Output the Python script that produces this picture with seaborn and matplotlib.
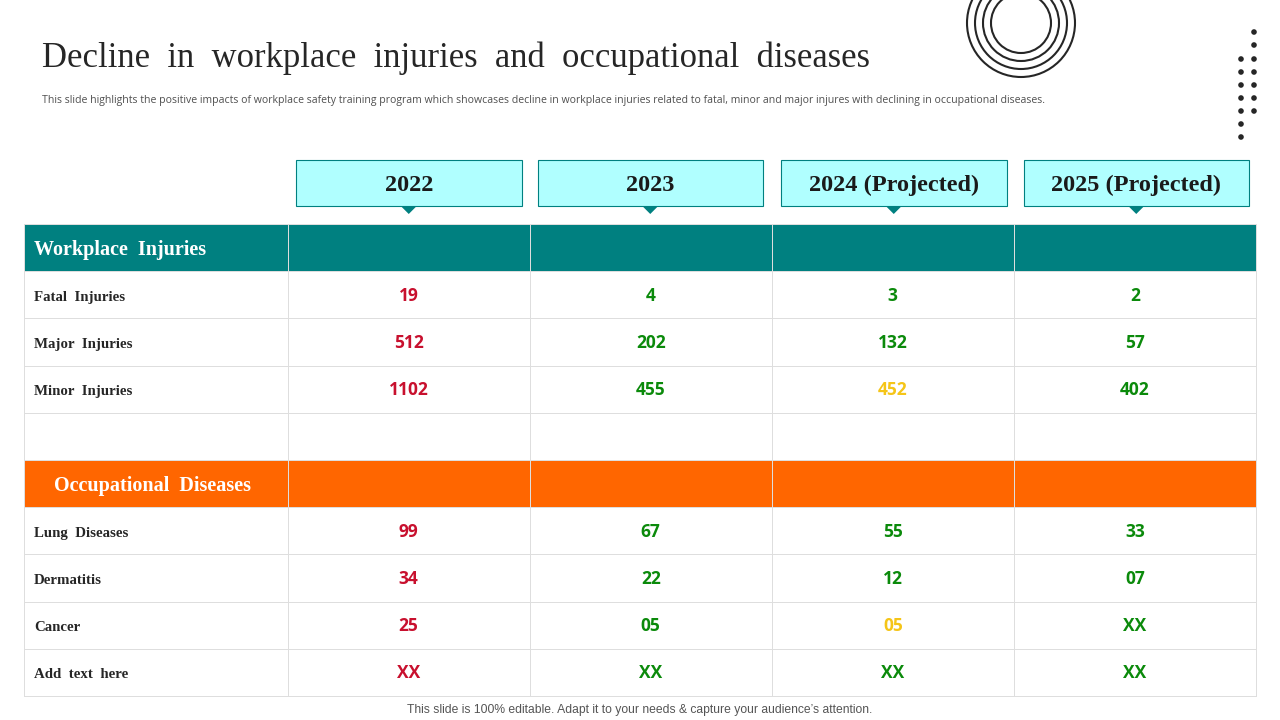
import numpy as np
import seaborn as sns
import matplotlib.pyplot as plt
from matplotlib.colors import ListedColormap
from matplotlib.patches import Rectangle, Polygon, Circle

title = 'Decline  in  workplace  injuries  and  occupational  diseases'
subtitle = ('This slide highlights the positive impacts of workplace safety training program which showcases '
            'decline in workplace injuries related to fatal, minor and major injures with declining in occupational diseases.')
footer = 'This slide is 100% editable. Adapt it to your needs & capture your audience\u2019s attention.'

years = ['2022', '2023', '2024 (Projected)', '2025 (Projected)']
row_names = ['Workplace  Injuries', 'Fatal  Injuries', 'Major  Injuries', 'Minor  Injuries', '',
             'Occupational  Diseases', 'Lung  Diseases', 'Dermatitis', 'Cancer', 'Add  text  here']
row_kind = [1, 0, 0, 0, 0, 2, 0, 0, 0, 0]

col_2022 = ['', '19', '512', '1102', '', '', '99', '34', '25', 'XX']
col_2023 = ['', '4', '202', '455', '', '', '67', '22', '05', 'XX']
col_2024 = ['', '3', '132', '452', '', '', '55', '12', '05', 'XX']
col_2025 = ['', '2', '57', '402', '', '', '33', '07', 'XX', 'XX']

RED = '#C8102E'
GREEN = '#0B8A0B'
YELLOW = '#F5C518'
TEAL = '#008080'
ORANGE = '#FF6600'
# cells that break the red / green pattern
yellow_cells = [(3, 2), (8, 2)]

sns.set_theme(style='white')
fig = plt.figure(figsize=(12.8, 7.2), dpi=100)


def px_axes(x0, y0, x1, y1):
    return fig.add_axes([x0 / 1280, 1 - y1 / 720, (x1 - x0) / 1280, (y1 - y0) / 720])


bg = px_axes(0, 0, 1280, 720)
bg.set_xlim(0, 1280)
bg.set_ylim(720, 0)
bg.axis('off')

kinds = np.array(row_kind)
cmap = ListedColormap(['white', TEAL, ORANGE])
grid = dict(cmap=cmap, vmin=0, vmax=2, cbar=False, linewidths=0.7, linecolor='#DEDEDE',
            xticklabels=False, yticklabels=False)

# label column
left = px_axes(24, 224, 287.5, 696)
sns.heatmap(kinds.reshape(-1, 1), ax=left, **grid)
left.collections[0].set_clip_on(False)
for i, name in enumerate(row_names):
    head = row_kind[i] != 0
    left.text(0.038 if i != 5 else 0.114, i + 0.55, name, family='Liberation Serif', weight='bold',
              fontsize=14.5 if head else 10.7, color='white' if head else '#262626',
              va='center', ha='left')

# value columns
values = np.array([col_2022, col_2023, col_2024, col_2025]).T
right = px_axes(287.5, 224, 1256, 696)
sns.heatmap(np.tile(kinds.reshape(-1, 1), (1, 4)), ax=right, annot=values, fmt='',
            annot_kws=dict(family='Open Sans', weight='bold', fontsize=12.5), **grid)
right.collections[0].set_clip_on(False)
n_rows, n_cols = values.shape
for r in range(n_rows):
    for c in range(n_cols):
        t = right.texts[r * n_cols + c]
        t.set_color(RED if c == 0 else (YELLOW if (r, c) in yellow_cells else GREEN))
        t.set_position((c + 0.5, r + 0.52))

# year boxes with the small pointers
box_edges = [(296, 521.5), (538, 762.5), (781, 1006.5), (1024, 1248.5)]
for (x0, x1), year in zip(box_edges, years):
    mid = (x0 + x1) / 2
    bg.add_patch(Rectangle((x0, 160), x1 - x0, 45.5, fc='#B0FFFF', ec=TEAL, lw=0.8))
    bg.add_patch(Polygon([(mid - 8, 206), (mid + 8, 206), (mid, 214)], fc=TEAL, ec='none'))
    bg.text(mid, 185.5, year, family='Liberation Serif', weight='bold', fontsize=17.5,
            color='#1A1A1A', ha='center', va='center')

# titles
bg.text(42, 58, title, family='Liberation Serif', fontsize=24.95, color='#262626', va='center', ha='left')
bg.text(42, 100, subtitle, family='Open Sans', fontsize=7.55, color='#505050', va='center', ha='left')
bg.text(640, 709.5, footer, family='Liberation Sans', fontsize=8.75, color='#555555', va='center', ha='center')

# decoration at the top right
for rad in [54, 46, 38, 30]:
    bg.add_patch(Circle((1021, 23), rad, fc='none', ec='#262626', lw=1.5))
for x, ys in [(1241, [59, 72, 85, 98, 111, 124, 137]), (1254, [32, 45, 59, 72, 85, 98, 111])]:
    for y in ys:
        bg.add_patch(Circle((x, y), 2.8, fc='#262626', ec='none'))

fig.savefig('out.png', dpi=100)
